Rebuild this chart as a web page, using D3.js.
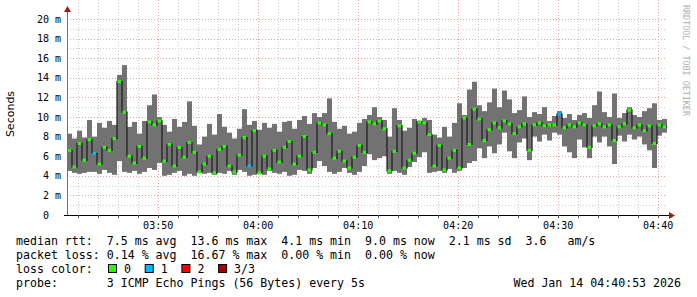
<!DOCTYPE html>
<html>
<head>
<meta charset="utf-8">
<script src="https://cdn.jsdelivr.net/npm/d3@7"></script>
<style>
    body { margin: 0; background: #fff; }
    svg text { font-family: "DejaVu Sans Mono", monospace; white-space: pre; }
</style>
</head>
<body>
<svg width="697" height="297"></svg>
<script>
// Time window (UTC) and rrd step
var startTime = Date.UTC(2026, 0, 14, 3, 40, 53);
var endTime = Date.UTC(2026, 0, 14, 4, 40, 53);
var stepSeconds = 30;

// Smoke range (ms) and median per step
var pingLow = [
    4.5, 4.3, 4.2, 4.3, 4.4, 4.4, 4.2, 4.6, 4.3, 4.1,
    5.5, 4.4, 4.3, 4.5, 4.2, 4.4, 4.8, 4.6, 5.3, 4.0,
    4.1, 4.3, 4.5, 4.0, 4.2, 4.0, 4.4, 4.2, 4.3, 4.1,
    4.3, 4.2, 4.5, 4.1, 4.6, 4.4, 4.0, 4.1, 4.3, 4.1,
    4.5, 4.3, 4.2, 4.4, 4.0, 4.1, 4.6, 4.5, 4.2, 4.8,
    5.5, 5.0, 4.4, 4.2, 4.4, 4.8, 4.3, 4.1, 4.4, 5.0,
    6.2, 5.6, 5.8, 6.0, 4.2, 4.5, 4.3, 4.1, 4.9, 5.4,
    5.9, 6.4, 4.3, 4.4, 4.5, 4.3, 4.7, 4.3, 4.5, 4.8,
    5.3, 5.5, 6.8, 5.8, 7.0, 6.3, 7.2, 8.4, 6.5, 5.8,
    7.4, 7.8, 5.6, 8.0, 7.5, 8.2, 7.6, 8.4, 8.2, 7.0,
    6.4, 5.8, 7.7, 6.9, 5.8, 8.0, 7.4, 8.0, 7.0, 5.2,
    8.1, 7.5, 8.2, 7.7, 8.0, 7.2, 6.6, 4.8, 8.1, 8.4
];
var pingHigh = [
    8.3, 7.8, 8.6, 7.9, 9.7, 8.0, 9.4, 8.9, 9.6, 9.2,
    14.3, 15.3, 9.0, 9.5, 8.3, 9.6, 11.2, 12.3, 10.0, 9.2,
    8.5, 9.8, 9.0, 9.5, 11.6, 9.1, 7.2, 8.0, 9.3, 8.2,
    10.3, 9.0, 8.4, 7.8, 8.8, 10.8, 9.2, 9.6, 8.7, 9.4,
    8.9, 9.3, 8.5, 9.5, 9.6, 8.8, 9.7, 10.1, 9.3, 10.4,
    10.0, 10.4, 11.9, 9.5, 8.8, 9.1, 8.3, 8.5, 9.4, 9.8,
    10.2, 11.0, 10.0, 9.7, 8.0, 10.9, 9.7, 8.6, 8.9, 9.8,
    9.6, 9.9, 9.7, 8.2, 7.9, 9.0, 8.0, 9.4, 11.4, 10.2,
    12.8, 13.6, 11.2, 10.6, 11.5, 12.9, 11.0, 12.7, 11.8, 10.4,
    10.7, 12.1, 10.0, 10.5, 10.3, 11.0, 9.6, 10.1, 10.6, 9.9,
    10.3, 9.7, 10.2, 10.4, 9.9, 11.2, 12.6, 10.5, 10.0, 12.4,
    9.9, 10.4, 11.0, 10.2, 10.0, 10.6, 10.9, 11.4, 9.7, 9.8
];
var median = [
    6.6, 4.9, 7.3, 5.6, 7.7, 6.3, 5.2, 6.9, 6.6, 7.8,
    13.6, 10.5, 6.0, 5.3, 7.0, 5.8, 9.5, 9.2, 9.6, 5.5,
    7.2, 5.0, 6.9, 5.9, 7.4, 6.4, 4.4, 5.2, 6.0, 4.3,
    6.7, 7.0, 5.0, 4.4, 6.1, 7.9, 5.0, 8.6, 4.3, 6.0,
    4.7, 6.6, 5.4, 6.9, 7.5, 5.2, 6.0, 8.0, 4.6, 6.4,
    9.4, 9.2, 8.3, 5.8, 6.5, 5.5, 4.8, 5.9, 7.1, 6.4,
    9.5, 9.3, 9.6, 8.8, 4.5, 6.5, 9.1, 4.8, 5.6, 6.3,
    9.5, 9.4, 8.2, 5.0, 7.1, 4.6, 5.8, 6.6, 4.8, 9.9,
    7.2, 10.8, 9.8, 7.6, 8.7, 9.4, 8.9, 9.6, 9.3, 8.3,
    9.0, 9.3, 6.6, 9.2, 9.4, 9.1, 9.2, 9.2, 10.3, 8.9,
    9.2, 9.0, 9.4, 9.2, 6.9, 9.1, 9.3, 9.0, 9.2, 7.6,
    9.0, 9.3, 10.7, 8.9, 9.2, 8.6, 9.1, 7.3, 9.2, 9.0
];
// lost pings per step (out of 3)
var lossCount = [
    0, 0, 0, 0, 0, 1, 0, 0, 0, 0,
    0, 0, 0, 0, 0, 0, 0, 0, 0, 0,
    0, 0, 0, 0, 0, 0, 0, 0, 0, 0,
    0, 0, 0, 0, 0, 0, 1, 0, 0, 0,
    0, 0, 0, 0, 0, 0, 0, 0, 0, 0,
    0, 0, 0, 0, 0, 0, 0, 0, 0, 0,
    0, 0, 0, 0, 0, 0, 0, 0, 0, 0,
    0, 0, 0, 0, 0, 0, 0, 0, 0, 0,
    0, 0, 0, 0, 0, 0, 0, 0, 0, 0,
    0, 0, 0, 0, 0, 0, 0, 0, 1, 0,
    0, 0, 0, 0, 0, 0, 0, 0, 0, 0,
    0, 0, 0, 0, 0, 0, 0, 0, 0, 0
];

var yTicks = [0, 2, 4, 6, 8, 10, 12, 14, 16, 18, 20];
var yTickLabels = ["0  ", "2 m", "4 m", "6 m", "8 m", "10 m", "12 m", "14 m", "16 m", "18 m", "20 m"];
var lossLabels = ["0", "1", "2", "3/3"];
var lossColors = ["#26ff00", "#00b8ff", "#ff0000", "#a80000"];
var legendLines = [
    "median rtt:  7.5 ms avg  13.6 ms max  4.1 ms min  9.0 ms now  2.1 ms sd  3.6   am/s",
    "packet loss: 0.14 % avg  16.67 % max  0.00 % min  0.00 % now",
    "loss color:",
    "probe:       3 ICMP Echo Pings (56 Bytes) every 5s"
];

var svg = d3.select("svg"),
    left = 67, right = 667, top = 13, bottom = 215;

var x = d3.scaleUtc()
    .domain([new Date(startTime), new Date(endTime)])
    .range([left, right]);
var y = d3.scaleLinear()
    .domain([0, 20])
    .range([bottom, 19]);

var steps = median.map(function (d, i) {
    return {
        t: new Date(startTime + i * stepSeconds * 1000),
        t1: new Date(startTime + (i + 1) * stepSeconds * 1000),
        lo: pingLow[i], hi: pingHigh[i], med: d, loss: lossCount[i]
    };
});

// Grid (behind the data)
var grid = svg.append("g");
d3.range(1, 21).forEach(function (v) {
    grid.append("line")
        .attr("x1", left).attr("x2", right)
        .attr("y1", Math.round(y(v)) + 0.5).attr("y2", Math.round(y(v)) + 0.5)
        .attr("stroke", v % 2 === 0 ? "#eba5a5" : "#cccccc")
        .attr("stroke-dasharray", "1,2");
});
var minorTimes = d3.utcMinute.every(2).range(x.domain()[0], x.domain()[1]);
minorTimes.forEach(function (t) {
    var major = t.getUTCMinutes() % 10 === 0;
    grid.append("line")
        .attr("x1", Math.round(x(t)) + 0.5).attr("x2", Math.round(x(t)) + 0.5)
        .attr("y1", top).attr("y2", bottom)
        .attr("stroke", major ? "#eba5a5" : "#cccccc")
        .attr("stroke-dasharray", "1,2");
});

// Smoke
svg.append("g").selectAll("rect")
    .data(steps)
    .enter()
    .append("rect")
    .attr("x", function (d) { return x(d.t); })
    .attr("width", function (d) { return x(d.t1) - x(d.t); })
    .attr("y", function (d) { return y(d.hi); })
    .attr("height", function (d) { return y(d.lo) - y(d.hi); })
    .attr("fill", "#727272");

// Median: dark step line, then loss-coloured ticks
var medLine = d3.line()
    .x(function (d) { return x(d.t); })
    .y(function (d) { return y(d.med); })
    .curve(d3.curveStepAfter);
svg.append("path")
    .datum(steps.concat([{ t: steps[steps.length - 1].t1, med: steps[steps.length - 1].med }]))
    .attr("d", medLine)
    .attr("fill", "none")
    .attr("stroke", "#1a1a1a")
    .attr("stroke-width", 1.2);

svg.append("g").selectAll("rect")
    .data(steps)
    .enter()
    .append("rect")
    .attr("x", function (d) { return x(d.t) + 0.5; })
    .attr("width", function (d) { return x(d.t1) - x(d.t) - 1.5; })
    .attr("y", function (d) { return y(d.med) - 1.5; })
    .attr("height", 3)
    .attr("fill", function (d) { return lossColors[d.loss]; });

// Axes
svg.append("line")
    .attr("x1", left + 0.5).attr("x2", left + 0.5)
    .attr("y1", 11).attr("y2", bottom)
    .attr("stroke", "#707070");
svg.append("line")
    .attr("x1", left - 3).attr("x2", right + 4)
    .attr("y1", bottom + 0.5).attr("y2", bottom + 0.5)
    .attr("stroke", "#000");
svg.append("path")
    .attr("d", "M" + (left - 3) + ",12 L" + (left + 0.5) + ",6 L" + (left + 4) + ",12 Z")
    .attr("fill", "#9b1b1b");
svg.append("path")
    .attr("d", "M" + (right + 2) + "," + (bottom - 3) + " L" + (right + 8) + "," + (bottom + 0.5) + " L" + (right + 2) + "," + (bottom + 4) + " Z")
    .attr("fill", "#9b1b1b");

minorTimes.forEach(function (t) {
    svg.append("line")
        .attr("x1", Math.round(x(t)) + 0.5).attr("x2", Math.round(x(t)) + 0.5)
        .attr("y1", bottom).attr("y2", bottom + 3)
        .attr("stroke", "#555");
});

// Y labels
svg.append("g").selectAll("text")
    .data(yTicks)
    .enter()
    .append("text")
    .attr("x", 61)
    .attr("y", function (d) { return y(d) + 3.5; })
    .attr("text-anchor", "end")
    .attr("font-size", "10px")
    .attr("fill", "#000")
    .text(function (d, i) { return yTickLabels[i]; });

// X labels
svg.append("g").selectAll("text")
    .data(x.ticks(d3.utcMinute.every(10)))
    .enter()
    .append("text")
    .attr("x", function (d) { return x(d); })
    .attr("y", 229)
    .attr("text-anchor", "middle")
    .attr("font-size", "10px")
    .attr("fill", "#000")
    .text(d3.utcFormat("%H:%M"));

svg.append("text")
    .attr("transform", "translate(14,114) rotate(-90)")
    .attr("text-anchor", "middle")
    .style("font-family", "'DejaVu Sans', sans-serif")
    .attr("font-size", "11px")
    .text("Seconds");

svg.append("text")
    .attr("transform", "translate(683,5) rotate(90)")
    .attr("font-size", "8.4px")
    .attr("fill", "#b0b0b0")
    .text("RRDTOOL / TOBI OETIKER");

// Legend
svg.append("g").selectAll("text")
    .data(legendLines)
    .enter()
    .append("text")
    .attr("x", 16)
    .attr("y", function (d, i) { return 245 + i * 14; })
    .attr("font-size", "11.6px")
    .attr("fill", "#000")
    .text(function (d) { return d; });

var lossKey = svg.append("g").selectAll("g")
    .data(lossLabels)
    .enter()
    .append("g")
    .attr("transform", function (d, i) { return "translate(" + (108 + i * 36.7) + ",264)"; });
lossKey.append("rect")
    .attr("x", 0.5).attr("y", 0.5)
    .attr("width", 8).attr("height", 8)
    .attr("fill", function (d, i) { return lossColors[i]; })
    .attr("stroke", "#000");
lossKey.append("text")
    .attr("x", 16)
    .attr("y", 9)
    .attr("font-size", "11.6px")
    .text(function (d) { return d; });

svg.append("text")
    .attr("x", 681)
    .attr("y", 287)
    .attr("text-anchor", "end")
    .attr("font-size", "11.6px")
    .text(d3.utcFormat("%a %b %d %H:%M:%S %Y")(new Date(endTime)));
</script>
</body>
</html>
